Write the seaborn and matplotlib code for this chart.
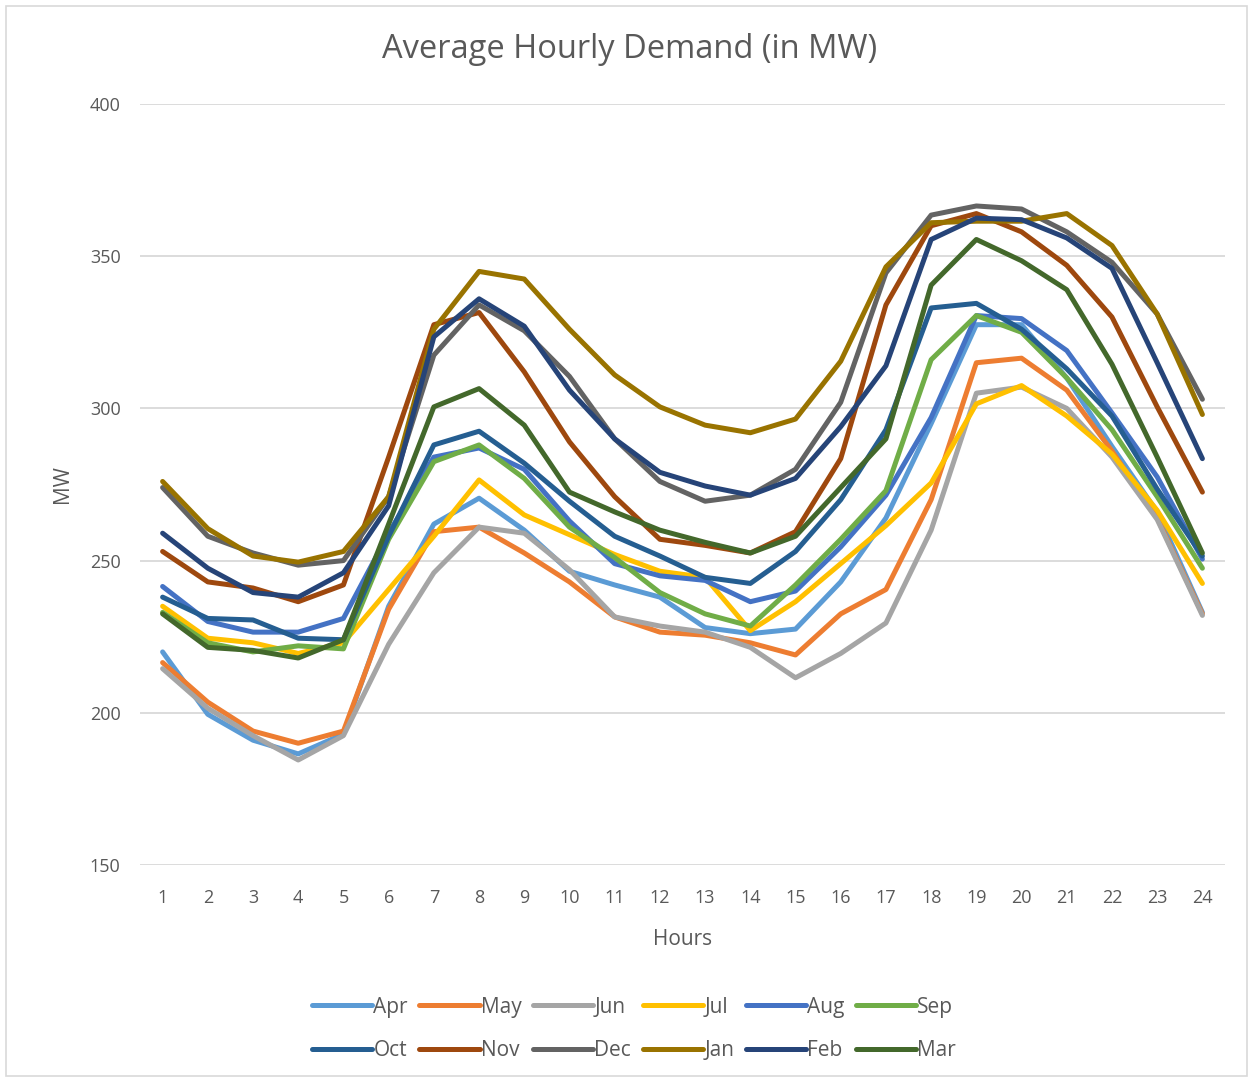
import pandas as pd
import matplotlib
matplotlib.use("Agg")
import matplotlib.pyplot as plt
import seaborn as sns
from matplotlib.patches import Rectangle

# Hour of day
hours = list(range(1, 25))

# Average hourly demand per month (MW)
apr = [220, 199.5, 191, 186.5, 193, 235, 262, 270.5, 260, 246.5, 242, 238, 228, 226, 227.5, 243, 264, 295, 327.5, 327.5, 310, 287.5, 266, 233]
may = [216.5, 203.5, 194, 190, 194, 234, 259.5, 261, 252.5, 243, 231.5, 226.5, 225.5, 223, 219, 232.5, 240.5, 270, 315, 316.5, 306, 286, 264, 232.5]
jun = [214.5, 201.5, 192.5, 184.5, 192.5, 222.5, 246, 261, 259, 247, 231.5, 228.5, 226.5, 221.5, 211.5, 219.5, 229.5, 260, 305, 307, 300, 284, 263.5, 232]
jul = [235, 224.5, 223, 219.5, 223, 240.5, 258, 276.5, 265, 258.5, 252, 246.5, 244.5, 227, 236.5, 249, 261.5, 275.5, 301.5, 307.5, 297.5, 285, 266.5, 242.5]
aug = [241.5, 230, 226.5, 226.5, 231, 259, 284, 287, 280, 263, 249, 245, 243.5, 236.5, 240, 254.5, 271.5, 297, 330.5, 329.5, 319, 298.5, 277.5, 250.5]
sep = [233, 223, 220, 222, 221, 257, 282.5, 288, 277, 261, 251, 239.5, 232.5, 228.5, 242, 257, 273, 316, 330.5, 325, 310, 293, 271, 247.5]
oct_ = [238, 231, 230.5, 224.5, 224, 258, 288, 292.5, 282, 269.5, 258, 251.5, 244.5, 242.5, 253, 270, 293, 333, 334.5, 326, 313, 297.5, 273.5, 251.5]
nov = [253, 243, 241, 236.5, 242, 284, 327.5, 331.5, 312, 289, 271, 257, 255, 252.5, 259.5, 283.5, 334, 360, 364, 358, 347, 330, 300.5, 272.5]
dec = [274, 258, 252.5, 248.5, 250, 271, 317.5, 334, 325.5, 310.5, 290, 276, 269.5, 271.5, 280, 302, 344.5, 363.5, 366.5, 365.5, 358, 348, 331, 303]
jan = [276, 260.5, 251.5, 249.5, 253, 271, 326, 345, 342.5, 326, 311, 300.5, 294.5, 292, 296.5, 315.5, 346.5, 361, 361.5, 361.5, 364, 353.5, 331, 298]
feb = [259, 247.5, 239.5, 238, 246, 268, 323.5, 336, 327, 306, 290, 279, 274.5, 271.5, 277, 294, 314, 355.5, 362.5, 362, 356, 346, 315, 283.5]
mar = [232.5, 221.5, 220.5, 218, 224, 262, 300.5, 306.5, 294.5, 272.5, 266, 260, 256, 252.5, 258, 274, 290, 340.5, 355.5, 348.5, 339, 314.5, 284, 252.5]

months = ["Apr", "May", "Jun", "Jul", "Aug", "Sep", "Oct", "Nov", "Dec", "Jan", "Feb", "Mar"]
series = [apr, may, jun, jul, aug, sep, oct_, nov, dec, jan, feb, mar]

colors = {
    "Apr": "#5B9BD5", "May": "#ED7D31", "Jun": "#A5A5A5", "Jul": "#FFC000",
    "Aug": "#4472C4", "Sep": "#70AD47", "Oct": "#255E91", "Nov": "#9E480E",
    "Dec": "#636363", "Jan": "#997300", "Feb": "#264478", "Mar": "#43682B",
}

# long-form table for seaborn
frames = [pd.DataFrame({"Hours": hours, "MW": vals, "Month": m}) for m, vals in zip(months, series)]
df = pd.concat(frames, ignore_index=True)

sns.set_theme(style="white")
plt.rcParams["font.family"] = ["Open Sans", "DejaVu Sans"]
text_color = "#595959"

fig = plt.figure(figsize=(12.53, 10.82), dpi=100)
ax = fig.add_axes([140 / 1253, 1 - 865 / 1082, (1225 - 140) / 1253, (865 - 104) / 1082])

sns.lineplot(data=df, x="Hours", y="MW", hue="Month", hue_order=months,
             palette=colors, linewidth=3.6, ax=ax, legend=False)

ax.set_xlim(0.5, 24.5)
ax.set_ylim(150, 400)
ax.set_xticks(hours)
ax.set_yticks(range(150, 401, 50))
ax.grid(axis="y", color="#D9D9D9", linewidth=1.3)
ax.grid(axis="x", visible=False)
ax.set_axisbelow(True)
for s in ax.spines.values():
    s.set_visible(False)
ax.tick_params(axis="both", length=0, labelsize=13, colors=text_color)
ax.tick_params(axis="x", pad=17)
ax.tick_params(axis="y", pad=14)
ax.set_xlabel("Hours", fontsize=15, color=text_color, labelpad=16)
ax.set_ylabel("MW", fontsize=15, color=text_color, labelpad=12)

fig.text(630 / 1253, 1 - 50 / 1082, "Average Hourly Demand (in MW)", ha="center", va="center",
         fontsize=23.5, color=text_color)

# legend in two rows below the plot; reorder so legend fills row by row
ncol = 6
order = [months[r * ncol + c] for c in range(ncol) for r in range(2)]
handles = [plt.Line2D([0], [0], color=colors[m], linewidth=3.6, solid_capstyle="round") for m in order]
fig.legend(handles, order, loc="center", bbox_to_anchor=(634 / 1253, 1 - 1029 / 1082),
           ncol=ncol, frameon=False, fontsize=15, handlelength=2.9, handletextpad=0.05,
           columnspacing=0.55, labelspacing=1.1, labelcolor=text_color)

# chart border
fig.patches.append(Rectangle((6 / 1253, 6 / 1082), 1 - 12 / 1253, 1 - 12 / 1082,
                             transform=fig.transFigure, fill=False, edgecolor="#D9D9D9", linewidth=1.2))

fig.savefig("out.png", dpi=100, facecolor="white")
